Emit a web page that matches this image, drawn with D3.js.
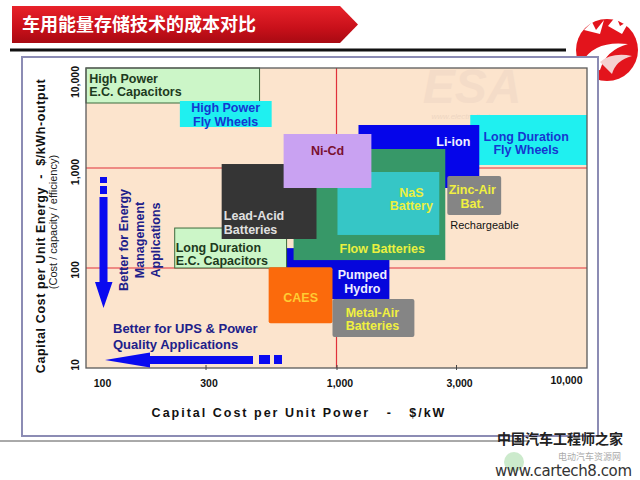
<!DOCTYPE html>
<html><head><meta charset="utf-8">
<script src="https://cdn.jsdelivr.net/npm/d3@7/dist/d3.min.js"></script>
<style>
body{margin:0;background:#fff;}
svg{display:block;}
text{font-family:"Liberation Sans",Arial,sans-serif;}
</style></head>
<body>
<svg id="c" width="640" height="480"></svg>
<script>
// ---------- data ----------
const techs = ["High Power E.C. Capacitors","High Power Fly Wheels","Long Duration Fly Wheels","Li-ion","Pumped Hydro","Flow Batteries","NaS Battery","Long Duration E.C. Capacitors","Lead-Acid Batteries","Ni-Cd","Zinc-Air Bat.","CAES","Metal-Air Batteries"];
const powerLo  = [100, 237, 3420, 1224, 626, 674, 1009, 226, 348, 615, 2769, 536, 964];
const powerHi  = [493, 551, 10000, 3715, 1626, 2718, 2572, 632, 832, 1378, 4543, 964, 2046];
const energyLo = [4467, 2570, 1072, 631, 49, 120, 214, 100, 195, 631, 339, 28, 20.4];
const energyHi = [10000, 4677, 3388, 2692, 158, 1549, 912, 251, 1096, 2188, 832, 102, 49];
const labelLines = [["High Power","E.C. Capacitors"],["High Power","Fly Wheels"],["Long Duration","Fly Wheels"],["Li-ion"],["Pumped","Hydro"],["Flow Batteries"],["NaS","Battery"],["Long Duration","E.C. Capacitors"],["Lead-Acid","Batteries"],["Ni-Cd"],["Zinc-Air","Bat."],["CAES"],["Metal-Air","Batteries"]];
const labelPower  = [103, 361, 5714, 2925, 1269, 1028, 1990, 228, 355, 921, 3483, 719, 1391];
const labelEnergy = [6760, 3428, 1778, 1820, 73.3, 158, 490, 138, 285, 1479, 519, 51, 30.9];
const xTicks = [100, 300, 1000, 3000, 10000];
const yTicks = [10, 100, 1000, 10000];
const xGrid = [1000];
const yGrid = [100, 1000];
const title = "车用能量存储技术的成本对比";
const xTitle = "Capital Cost per Unit Power   -   $/kW";
const yTitle = "Capital Cost per Unit Energy  -  $/kWh-output";
const ySub = "(Cost / capacity / efficiency)";

// ---------- styles ----------
const fill = {
 "High Power E.C. Capacitors":"#ccf6c8","Long Duration E.C. Capacitors":"#ccf6c8",
 "High Power Fly Wheels":"#1ff0f0","Long Duration Fly Wheels":"#1ff0f0",
 "Li-ion":"#0505ea","Pumped Hydro":"#0606dc","Flow Batteries":"#379868","NaS Battery":"#36c6c6",
 "Lead-Acid Batteries":"#353535","Ni-Cd":"#c9a2f2","Zinc-Air Bat.":"#858585","Metal-Air Batteries":"#858585","CAES":"#fb6a0c"};
const txt = {
 "High Power E.C. Capacitors":"#1d3a1d","Long Duration E.C. Capacitors":"#1d3a1d",
 "High Power Fly Wheels":"#1538d0","Long Duration Fly Wheels":"#1538d0",
 "Li-ion":"#f2f2ff","Pumped Hydro":"#eeeeff","Flow Batteries":"#eaf040","NaS Battery":"#eaf040",
 "Lead-Acid Batteries":"#e0e0e0","Ni-Cd":"#7a1030","Zinc-Air Bat.":"#f0f040","Metal-Air Batteries":"#f0f040","CAES":"#ffcc33"};
const anchorStart = new Set(["High Power E.C. Capacitors","Long Duration E.C. Capacitors","Lead-Acid Batteries","Flow Batteries"]);
const stroked = new Set(["High Power E.C. Capacitors","Long Duration E.C. Capacitors"]);
const rounded = new Set(["Zinc-Air Bat.","Metal-Air Batteries","CAES"]);

const svg = d3.select("#c");
const defs = svg.append("defs");
const g1 = defs.append("linearGradient").attr("id","tg").attr("x1",0).attr("y1",0).attr("x2",0).attr("y2",1);
g1.append("stop").attr("offset","0").attr("stop-color","#e8222a");
g1.append("stop").attr("offset","0.6").attr("stop-color","#c8101a");
g1.append("stop").attr("offset","1").attr("stop-color","#a80a12");

// title bar
svg.append("path").attr("d","M12,6 L340,6 L358,24.5 L340,43 L12,43 Z").attr("fill","url(#tg)");
svg.append("text").attr("x",22).attr("y",31).attr("fill","#fff").attr("font-size",18).attr("font-weight","bold")
  .style("font-family","'Noto Sans CJK SC',sans-serif").text(title);
svg.append("line").attr("x1",10).attr("x2",566).attr("y1",50).attr("y2",50).attr("stroke","#111").attr("stroke-width",3);

// logo
const lg = svg.append("g");
lg.append("circle").attr("cx",607).attr("cy",50).attr("r",31).attr("fill","#e3141c");
lg.append("path").attr("d","M582,62 Q595,40 628,44 Q606,50 600,70 Q590,72 582,62 Z").attr("fill","#fff");
lg.append("path").attr("d","M600,62 Q612,52 632,56 Q616,60 612,74 Z").attr("fill","#f5d0d0");
lg.append("path").attr("d","M584,30 L592,22 L596,30 L604,20 L600,34 Z").attr("fill","#fff");
lg.append("path").attr("d","M608,26 L616,16 L620,26 L630,20 L622,34 Z").attr("fill","#fff");

// panel
svg.append("rect").attr("x",22).attr("y",57).attr("width",576).attr("height",379).attr("fill","#fff").attr("stroke","#8c8cb4").attr("stroke-width",2);

// bottom line & watermark
svg.append("line").attr("x1",0).attr("x2",530).attr("y1",441).attr("y2",441).attr("stroke","#555").attr("stroke-width",1);
svg.append("circle").attr("cx",514).attr("cy",462).attr("r",10).attr("fill","#8fd08f").attr("opacity",0.45);
svg.append("text").attr("x",497).attr("y",444).attr("font-size",14).attr("font-weight","bold").attr("fill","#222")
  .style("font-family","'Noto Sans CJK SC',sans-serif").text("中国汽车工程师之家");
svg.append("text").attr("x",558).attr("y",459.5).attr("font-size",9).attr("fill","#aaa")
  .style("font-family","'Noto Sans CJK SC',sans-serif").text("电动汽车资源网");
svg.append("text").attr("x",495).attr("y",476).attr("font-size",15).attr("fill","#333")
  .style("font-family","'DejaVu Sans',sans-serif").attr("textLength",137).text("www.cartech8.com");

// ---------- chart ----------
const L=86, R=587, T=68, B=368;
const x = d3.scaleLog().domain([100,10000]).range([L,R]);
const y = d3.scaleLog().domain([10,10000]).range([B,T]);

svg.append("rect").attr("x",L).attr("y",T).attr("width",R-L).attr("height",B-T).attr("fill","#fce4cd");

// watermark ESA
svg.append("text").attr("x",472).attr("y",103).attr("text-anchor","middle").attr("font-size",48).attr("font-weight","bold")
  .attr("font-style","italic").attr("fill","#f4dcc8").text("ESA");
svg.append("text").attr("x",478).attr("y",119).attr("text-anchor","middle").attr("font-size",8)
  .attr("font-style","italic").attr("fill","#eed6c2").text("www.electricitystorage.org");

// grid (red)
svg.selectAll(".xg").data(xGrid).join("line").attr("x1",d=>x(d)).attr("x2",d=>x(d)).attr("y1",T).attr("y2",B)
  .attr("stroke","#e0303a").attr("stroke-width",1.2);
svg.selectAll(".yg").data(yGrid).join("line").attr("x1",L).attr("x2",R).attr("y1",d=>y(d)).attr("y2",d=>y(d))
  .attr("stroke","#e0303a").attr("stroke-width",1.2);

// boxes
const idx = d3.range(techs.length);
svg.selectAll(".box").data(idx).join("rect")
  .attr("x",i=>x(powerLo[i])).attr("width",i=>x(powerHi[i])-x(powerLo[i]))
  .attr("y",i=>y(energyHi[i])).attr("height",i=>y(energyLo[i])-y(energyHi[i]))
  .attr("rx",i=>rounded.has(techs[i])?2:0)
  .attr("fill",i=>fill[techs[i]])
  .attr("stroke",i=>stroked.has(techs[i])?"#3c6a3c":"none").attr("stroke-width",1);

// labels
idx.forEach(i=>{
  const n=labelLines[i].length, lh=13.5;
  const t = svg.append("text")
    .attr("x",x(labelPower[i])).attr("y",y(labelEnergy[i]))
    .attr("text-anchor",anchorStart.has(techs[i])?"start":"middle")
    .attr("font-size",12.5).attr("font-weight","bold").attr("fill",txt[techs[i]]);
  labelLines[i].forEach((s,k)=>{
    t.append("tspan").attr("x",x(labelPower[i])).attr("dy",k===0?((-(n-1)/2)*lh+4.4):lh).text(s);
  });
});
svg.append("text").attr("x",x(2847)).attr("y",y(269)+4).attr("font-size",11).attr("fill","#111").text("Rechargeable");

// frame
svg.append("rect").attr("x",L).attr("y",T).attr("width",R-L).attr("height",B-T).attr("fill","none").attr("stroke","#5a5a5a").attr("stroke-width",1.3);

// x axis
const xa = svg.append("g").attr("transform",`translate(0,${B})`)
  .call(d3.axisBottom(x).tickValues(xTicks).tickFormat(d3.format(",")).tickSizeInner(-5).tickSizeOuter(0).tickPadding(12));
xa.select(".domain").remove();
xa.selectAll(".tick line").attr("stroke","#444").attr("transform","translate(0,2)");
xa.selectAll(".tick text").attr("font-size",10.5).attr("font-weight","bold").attr("fill","#111")
  .style("font-family","'Liberation Sans',Arial,sans-serif")
  .attr("dx",d=>d===100?16:(d===10000?-21:3)).attr("dy",d=>d===10000?"0.4em":"0.71em");
xa.selectAll(".tick").filter(d=>d===100||d===10000).select("line").remove();

// y axis labels (rotated)
const yShift = {10:-3, 100:2, 1000:4, 10000:14};
svg.selectAll(".yl").data(yTicks).join("text")
  .attr("transform",d=>`translate(79,${y(d)+yShift[d]}) rotate(-90)`)
  .attr("text-anchor","middle").attr("font-size",10.5).attr("font-weight","bold").attr("fill","#111")
  .text(d=>d3.format(",")(d));

// axis titles
svg.append("text").attr("x",299).attr("y",417).attr("text-anchor","middle").attr("font-size",12.5).attr("font-weight","bold")
  .attr("fill","#111").attr("letter-spacing",2).attr("xml:space","preserve").text(xTitle);
svg.append("text").attr("transform","translate(45,226) rotate(-90)").attr("text-anchor","middle").attr("font-size",12.5)
  .attr("font-weight","bold").attr("fill","#111").attr("letter-spacing",0.6).attr("xml:space","preserve").text(yTitle);
svg.append("text").attr("transform","translate(57,222) rotate(-90)").attr("text-anchor","middle").attr("font-size",11)
  .attr("fill","#222").text(ySub);

// arrows
const blue="#0a0af0", navy="#20208a";
svg.append("rect").attr("x",100).attr("y",177).attr("width",7).attr("height",6).attr("fill",blue);
svg.append("rect").attr("x",100).attr("y",186).attr("width",7).attr("height",8).attr("fill",blue);
svg.append("path").attr("d","M99.5,197 L107.5,197 L107.5,282 L112.5,282 L103.5,308 L95,282 L99.5,282 Z").attr("fill",blue);
svg.append("path").attr("d","M253,356 L253,364 L150,364 L150,367.5 L105,360 L150,352.5 L150,356 Z").attr("fill",blue);
svg.append("rect").attr("x",259).attr("y",355).attr("width",11).attr("height",9).attr("fill",blue);
svg.append("rect").attr("x",274).attr("y",355).attr("width",8).attr("height",9).attr("fill",blue);

const vt = ["Better for Energy","Management","Applications"];
const vx = [127.5,144,160];
vt.forEach((s,k)=>svg.append("text").attr("transform",`translate(${vx[k]},240) rotate(-90)`).attr("text-anchor","middle")
  .attr("font-size",12.5).attr("font-weight","bold").attr("fill",navy).text(s));
svg.append("text").attr("x",113).attr("y",333).attr("font-size",13).attr("font-weight","bold").attr("fill",navy).text("Better for UPS & Power");
svg.append("text").attr("x",113).attr("y",349).attr("font-size",13).attr("font-weight","bold").attr("fill",navy).text("Quality Applications");
</script>
</body></html>
